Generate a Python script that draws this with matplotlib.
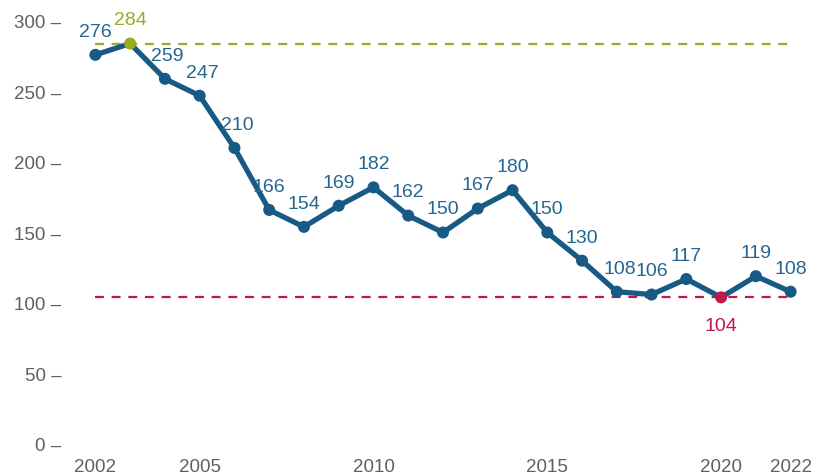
import numpy as np
import matplotlib
matplotlib.use("Agg")
import matplotlib.pyplot as plt
from matplotlib.ticker import FuncFormatter

# data
years = [2002, 2003, 2004, 2005, 2006, 2007, 2008, 2009, 2010, 2011, 2012,
         2013, 2014, 2015, 2016, 2017, 2018, 2019, 2020, 2021, 2022]
values = [276, 284, 259, 247, 210, 166, 154, 169, 182, 162, 150,
          167, 180, 150, 130, 108, 106, 117, 104, 119, 108]
x_ticks = [2002, 2005, 2010, 2015, 2020, 2022]
y_ticks = [0, 50, 100, 150, 200, 250, 300]

blue = "#175a86"
label_blue = "#246691"
green = "#9aab1f"
red = "#c3174b"
grey = "#606060"

plt.rcParams["font.family"] = ["Liberation Sans", "DejaVu Sans"]

fig = plt.figure(figsize=(8.15, 4.77), dpi=100)
ax = fig.add_axes([78 / 815, 32 / 477, (808 - 78) / 815, (445 - 22) / 477])

max_i = int(np.argmax(values))
min_i = int(np.argmin(values))

# reference lines at max and min
ax.plot([years[0], years[-1]], [values[max_i]] * 2, ls=(0, (4, 3.5)), color=green, lw=1.6, zorder=1)
ax.plot([years[0], years[-1]], [values[min_i]] * 2, ls=(0, (4, 3.5)), color=red, lw=1.6, zorder=1)

ax.plot(years, values, color=blue, lw=3.8, solid_capstyle="round", zorder=2)
colors = [blue] * len(values)
colors[max_i] = green
colors[min_i] = red
ax.scatter(years, values, s=75, c=colors, zorder=3, linewidths=0)

# labels above points (min below)
for i, (x, v) in enumerate(zip(years, values)):
    dx, dy = 0, 17
    if i in (2, 3, 4, 15):
        dx = 2
    if i == min_i:
        dy = -20
    c = label_blue if colors[i] == blue else colors[i]
    ax.annotate(str(v), (x, v), xytext=(dx, dy), textcoords="offset points",
                ha="center", va="center", fontsize=14, color=c,
                annotation_clip=False)

ax.set_xlim(2001.5, 2022.5)
ax.set_ylim(0, 300)
ax.set_xticks(x_ticks)
ax.set_yticks(y_ticks)
ax.yaxis.set_major_formatter(FuncFormatter(lambda v, p: f"{int(v)} \u2013"))
ax.tick_params(length=0, labelsize=13.5, labelcolor=grey)
ax.tick_params(axis="x", pad=10)
ax.tick_params(axis="y", pad=12)
for s in ax.spines.values():
    s.set_visible(False)

fig.savefig("out.png", dpi=100)
